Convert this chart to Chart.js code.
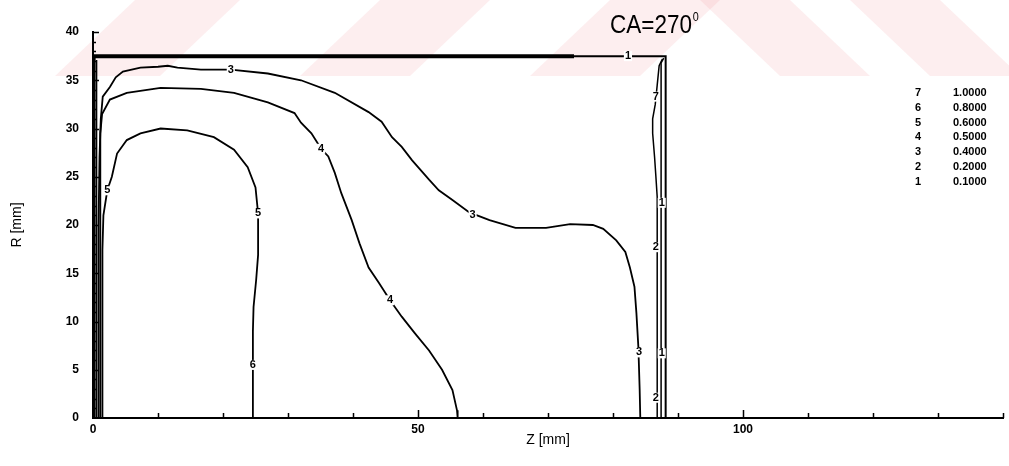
<!DOCTYPE html>
<html>
<head>
<meta charset="utf-8">
<script src="https://cdn.jsdelivr.net/npm/chart.js@4.4.0/dist/chart.umd.min.js"></script>
<style>
  html, body { margin: 0; padding: 0; background: #fff; }
  canvas { display: block; }
</style>
</head>
<body>
<canvas id="contourChart" width="1009" height="466"></canvas>
<script>
// contour lines, points are [Z mm, R mm]
const wallTop = [[0, 37.5], [74, 37.5]];
const level1 = [[0.25, 0], [0.25, 37.5], [88.1, 37.5], [88.1, 0]];
const level2Left = [[0.55, 0], [0.55, 37.1]];
const level2Right = [[87.4, 0], [87.4, 36.8], [87.8, 37.3]];
const level3 = [[0.85, 0], [0.85, 20], [1.0, 27], [1.2, 31], [1.5, 33.3], [2.6, 34.3], [3.5, 35.3],
  [4.6, 35.9], [7.3, 36.3], [10, 36.4], [11.5, 36.5], [13, 36.3], [16.6, 36.1], [21.2, 36.1],
  [26.9, 35.7], [32, 35], [37.2, 33.7], [42.4, 31.7], [44.4, 30.7], [46, 29.1], [47.5, 28.1],
  [49.1, 26.7], [51.7, 24.7], [53.2, 23.6], [55.3, 22.6], [57.9, 21.3], [61, 20.5], [65, 19.7],
  [69.7, 19.7], [73.4, 20.1], [76.9, 20.0], [78.5, 19.6], [80.5, 18.4], [81.9, 17.2], [82.6, 15.6],
  [83.3, 13.6], [83.6, 10.9], [83.9, 7.4], [84.1, 3], [84.2, 0]];
const level4 = [[1.1, 0], [1.1, 20], [1.15, 29.5], [1.4, 31.5], [2.6, 33], [5.2, 33.7], [10.4, 34.2],
  [16.6, 34.1], [21.7, 33.7], [26.9, 32.7], [31, 31.6], [32, 30.6], [33.6, 29.5], [35.1, 27.9],
  [36.2, 27.1], [37.2, 25.4], [38.2, 23.3], [39.8, 20.5], [41, 18.1], [42.4, 15.6], [44, 14],
  [45.7, 12.2], [47.5, 10.5], [49.5, 8.8], [51.7, 7], [53.7, 5], [55.3, 2.9], [56, 0.8], [56.1, 0]];
const level5 = [[1.4, 0], [1.4, 10], [1.5, 17.4], [1.6, 21], [2.2, 23.6], [2.9, 25], [3.7, 27.4],
  [5.2, 28.8], [7.3, 29.5], [10.4, 30], [14.5, 29.8], [18.6, 29.1], [21.7, 27.8], [23.8, 26],
  [25, 23.9], [25.4, 21.2], [25.4, 19.2], [25.4, 16.9], [25.1, 14.3], [24.7, 11.5], [24.6, 9], [24.6, 0]];
const level7 = [[86.8, 0], [86.8, 22.9], [86.6, 25], [86.4, 27], [86.1, 29.5], [86.1, 31], [86.5, 32.5],
  [86.8, 34.5], [87.1, 36.5], [87.6, 37.2]];

// numbers written on the lines
const labelText = ['1', '3', '4', '4', '3', '3', '5', '5', '6', '7', '2', '2', '1', '1'];
const labelZ = [82.3, 21.2, 35.1, 45.7, 58.4, 84.0, 2.2, 25.4, 24.6, 86.6, 86.6, 86.6, 87.5, 87.5];
const labelR = [37.5, 36.1, 27.9, 12.2, 21.0, 6.8, 23.6, 21.2, 5.5, 33.3, 17.7, 2.1, 22.3, 6.7];

// level table at the right
const legendLevels = ['7', '6', '5', '4', '3', '2', '1'];
const legendValues = ['1.0000', '0.8000', '0.6000', '0.5000', '0.4000', '0.2000', '0.1000'];

const FONT = "'Liberation Sans', Arial, sans-serif";

function pts(arr) {
  return arr.map(p => ({ x: p[0], y: p[1] }));
}

function line(arr, width) {
  return {
    data: pts(arr),
    showLine: true,
    borderColor: '#000',
    borderWidth: width,
    pointRadius: 0,
    tension: 0
  };
}

// pale watermark stripes at the top of the page
const watermarkPlugin = {
  id: 'watermark',
  beforeDraw(chart) {
    const ctx = chart.ctx;
    ctx.save();
    ctx.fillStyle = '#ffffff';
    ctx.fillRect(0, 0, chart.width, chart.height);
    ctx.fillStyle = 'rgba(238, 120, 135, 0.13)';
    const h = 76;
    [[55, 160], [300, 410], [530, 640]].forEach(b => {
      ctx.beginPath();
      ctx.moveTo(b[0], h);
      ctx.lineTo(b[1], h);
      ctx.lineTo(b[1] + 80, 0);
      ctx.lineTo(b[0] + 80, 0);
      ctx.closePath();
      ctx.fill();
    });
    [[700, 790], [850, 940]].forEach(b => {
      ctx.beginPath();
      ctx.moveTo(b[0], 0);
      ctx.lineTo(b[1], 0);
      ctx.lineTo(b[1] + 80, h);
      ctx.lineTo(b[0] + 80, h);
      ctx.closePath();
      ctx.fill();
    });
    ctx.restore();
  }
};

// tick marks drawn inside the axes
const innerTicksPlugin = {
  id: 'innerTicks',
  afterDraw(chart) {
    const ctx = chart.ctx, xs = chart.scales.x, ys = chart.scales.y;
    const a = chart.chartArea;
    ctx.save();
    ctx.strokeStyle = '#000';
    ctx.lineWidth = 1.5;
    ctx.beginPath();
    for (let v = 10; v <= 140; v += 10) {
      const px = Math.round(xs.getPixelForValue(v)) + 0.5;
      const len = v % 50 === 0 ? 8 : 5;
      ctx.moveTo(px, a.bottom);
      ctx.lineTo(px, a.bottom - len);
    }
    for (let v = 1; v <= 40; v += 1) {
      const py = Math.round(ys.getPixelForValue(v)) + 0.5;
      const len = v % 5 === 0 ? 6 : 3;
      ctx.moveTo(a.left, py);
      ctx.lineTo(a.left + len, py);
    }
    ctx.stroke();
    ctx.restore();
  }
};

const contourLabelPlugin = {
  id: 'contourLabels',
  afterDatasetsDraw(chart) {
    const ctx = chart.ctx, xs = chart.scales.x, ys = chart.scales.y;
    ctx.save();
    ctx.font = 'bold 11px ' + FONT;
    ctx.textAlign = 'center';
    ctx.textBaseline = 'middle';
    labelText.forEach((t, i) => {
      const px = xs.getPixelForValue(labelZ[i]);
      const py = ys.getPixelForValue(labelR[i]);
      const w = ctx.measureText(t).width + 2;
      ctx.fillStyle = '#fff';
      ctx.fillRect(px - w / 2, py - 5, w, 10);
      ctx.fillStyle = '#000';
      ctx.fillText(t, px, py);
    });
    ctx.restore();
  }
};

const headerPlugin = {
  id: 'header',
  afterDraw(chart) {
    const ctx = chart.ctx;
    ctx.save();
    ctx.fillStyle = '#000';
    ctx.textBaseline = 'alphabetic';
    ctx.textAlign = 'left';
    // narrow title, squeezed horizontally
    ctx.translate(610, 33);
    ctx.scale(0.9, 1);
    ctx.font = '25px ' + FONT;
    ctx.fillText('CA=270', 0, 0);
    const w = ctx.measureText('CA=270').width;
    ctx.font = '12px ' + FONT;
    ctx.fillText('0', w + 1, -12);
    ctx.restore();

    ctx.save();
    ctx.fillStyle = '#000';
    ctx.font = 'bold 11px ' + FONT;
    ctx.textBaseline = 'middle';
    legendLevels.forEach((lv, i) => {
      const y = 93 + i * 14.8;
      ctx.textAlign = 'center';
      ctx.fillText(lv, 918, y);
      ctx.textAlign = 'left';
      ctx.fillText(legendValues[i], 953, y);
    });
    ctx.restore();
  }
};

const ctx = document.getElementById('contourChart').getContext('2d');
new Chart(ctx, {
  type: 'scatter',
  data: {
    datasets: [
      line(wallTop, 4),
      line(level1, 2),
      line(level2Left, 1.5),
      line(level2Right, 1.5),
      line(level3, 1.8),
      line(level4, 1.8),
      line(level5, 1.8),
      line(level7, 1.5)
    ]
  },
  options: {
    responsive: false,
    animation: false,
    layout: { padding: { left: 0, right: 6, top: 32, bottom: 0 } },
    plugins: {
      legend: { display: false },
      tooltip: { enabled: false }
    },
    scales: {
      x: {
        type: 'linear',
        min: 0,
        max: 140,
        afterFit: s => { s.height = 48; },
        grid: { drawOnChartArea: false, drawTicks: false },
        border: { display: true, color: '#000', width: 2 },
        ticks: {
          stepSize: 10,
          padding: 4,
          color: '#000',
          font: { family: FONT, size: 12, weight: 'bold' },
          callback: v => (v % 50 === 0 ? v : '')
        },
        title: {
          display: true,
          text: 'Z [mm]',
          color: '#000',
          font: { family: FONT, size: 14 },
          padding: { top: 0, bottom: 17 }
        }
      },
      y: {
        type: 'linear',
        min: 0,
        max: 40,
        afterFit: s => { s.width = 93; },
        grid: { drawOnChartArea: false, drawTicks: false },
        border: { display: true, color: '#000', width: 2 },
        ticks: {
          stepSize: 5,
          padding: 14,
          color: '#000',
          font: { family: FONT, size: 12, weight: 'bold' }
        },
        title: {
          display: true,
          text: 'R [mm]',
          color: '#000',
          font: { family: FONT, size: 14 },
          padding: { top: 9, bottom: 0 }
        }
      }
    }
  },
  plugins: [watermarkPlugin, innerTicksPlugin, contourLabelPlugin, headerPlugin]
});
</script>
</body>
</html>
